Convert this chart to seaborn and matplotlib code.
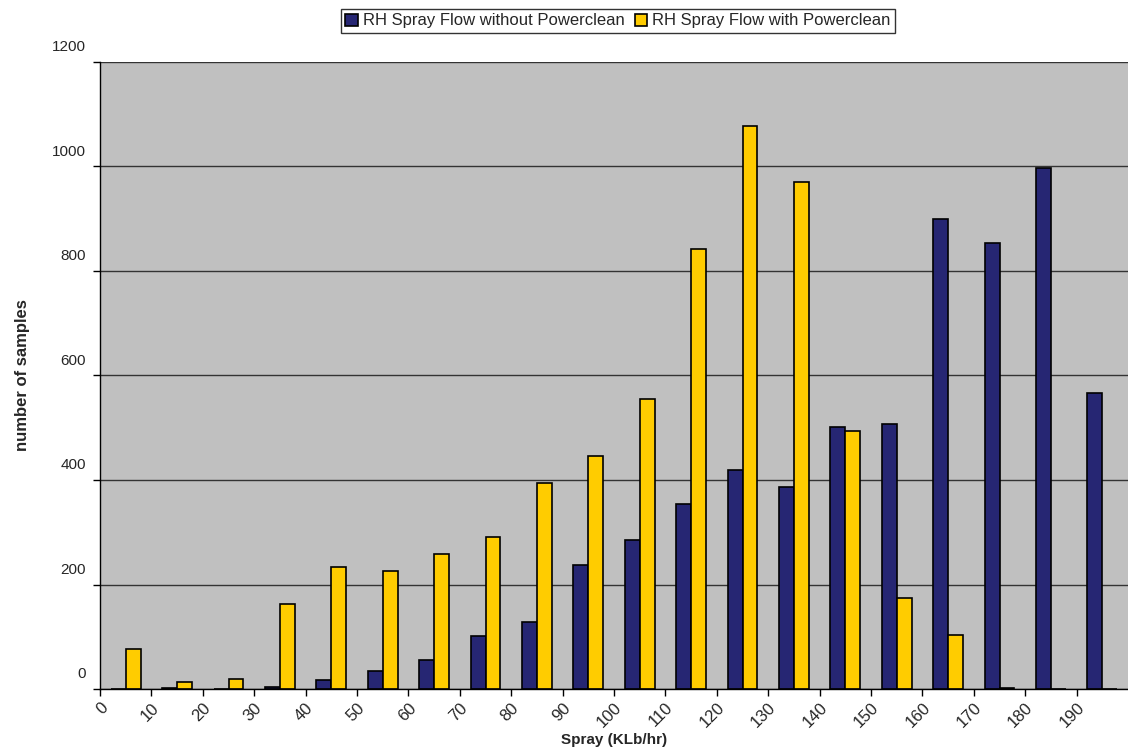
import numpy as np
import pandas as pd
import matplotlib
matplotlib.use("Agg")
import matplotlib.pyplot as plt
import matplotlib.transforms as mtransforms
import seaborn as sns

# bins of spray flow, 10 KLb/hr wide, lower edges 0..190
BIN_EDGES = [0, 10, 20, 30, 40, 50, 60, 70, 80, 90,
             100, 110, 120, 130, 140, 150, 160, 170, 180, 190]
SERIES = ["RH Spray Flow without Powerclean", "RH Spray Flow with Powerclean"]
WITHOUT_PC = [0, 2, 0, 4, 17, 35, 56, 101, 128, 237,
              286, 354, 420, 386, 501, 508, 899, 853, 997, 566]
WITH_PC = [76, 14, 19, 163, 234, 226, 259, 291, 395, 446,
           555, 843, 1078, 971, 494, 174, 104, 2, 0, 0]
Y_TICKS = [0, 200, 400, 600, 800, 1000, 1200]
COLORS = ["#262673", "#FFCC00"]

bins = [f"{b}-{b + 10}" for b in BIN_EDGES]
df = pd.DataFrame({
    "bin": bins * 2,
    "count": WITHOUT_PC + WITH_PC,
    "series": [SERIES[0]] * len(bins) + [SERIES[1]] * len(bins),
})

sns.set_style("white")
plt.rcParams["font.family"] = ["Liberation Sans", "DejaVu Sans"]

fig = plt.figure(figsize=(11.28, 7.55), dpi=100)
ax = fig.add_axes([100 / 1128, 1 - 689 / 755, 1 - 100 / 1128, (689 - 62) / 755])
ax.set_facecolor("#C0C0C0")

sns.barplot(data=df, x="bin", y="count", hue="series", order=bins,
            hue_order=SERIES, palette=COLORS, saturation=1, width=0.58,
            edgecolor="black", linewidth=1.2, ax=ax, legend=True)

ax.set_xlim(-0.5, len(bins) - 0.5)
ax.set_ylim(0, 1200)
ax.set_xticks(np.arange(len(bins)) - 0.5)
ax.set_xticklabels([str(b) for b in BIN_EDGES], rotation=45, ha="right",
                   va="top", rotation_mode="anchor", fontsize=12)
ax.set_yticks(Y_TICKS)
ax.set_yticklabels([str(t) for t in Y_TICKS], fontsize=11)

ax.tick_params(axis="both", which="major", direction="out", length=5,
               width=1, color="black", left=True, bottom=True)
ax.tick_params(axis="y", pad=5)
ax.tick_params(axis="x", pad=3)

# y labels sit a bit above their gridlines, as in the original
offset = mtransforms.ScaledTranslation(0, 16 / 100, fig.dpi_scale_trans)
for lab in ax.get_yticklabels():
    lab.set_transform(lab.get_transform() + offset)

ax.yaxis.grid(True, color="#333333", linewidth=1)
ax.set_axisbelow(True)
for side in ["top", "right"]:
    ax.spines[side].set_visible(False)
for side in ["left", "bottom"]:
    ax.spines[side].set_color("black")
    ax.spines[side].set_linewidth(1)

ax.set_xlabel("Spray (KLb/hr)", fontsize=11, fontweight="bold", labelpad=2)
ax.set_ylabel("number of samples", fontsize=12, fontweight="bold", labelpad=16)

handles, labels = ax.get_legend_handles_labels()
ax.legend_.remove()
leg = fig.legend(handles, labels, loc="center", bbox_to_anchor=(618 / 1128, 1 - 21 / 755),
                 ncol=2, frameon=True, fancybox=False, fontsize=12,
                 handlelength=0.75, handleheight=0.75, handletextpad=0.3,
                 columnspacing=0.6, borderpad=0.25, borderaxespad=0)
leg.get_frame().set_edgecolor("black")
leg.get_frame().set_linewidth(1)

fig.savefig("out.png", dpi=100)
